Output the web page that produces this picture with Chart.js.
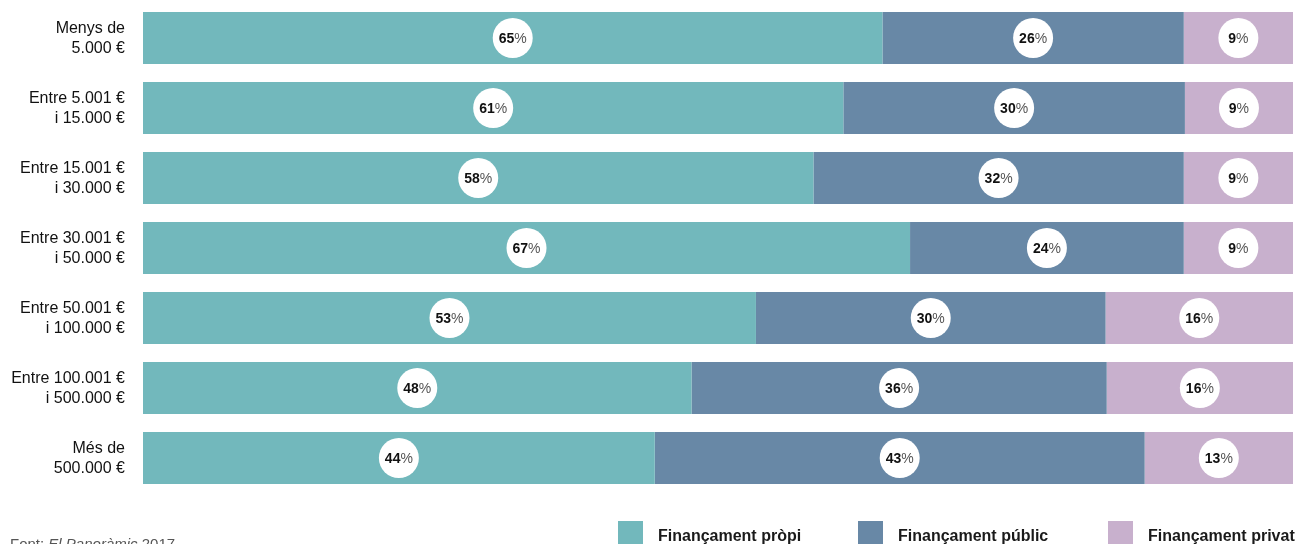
<!DOCTYPE html>
<html>
<head>
<meta charset="utf-8">
<script src="https://cdn.jsdelivr.net/npm/chart.js@4.4.1/dist/chart.umd.min.js"></script>
<style>
html, body { margin: 0; padding: 0; background: #fff; overflow: hidden; }
#wrap { position: relative; width: 1297px; height: 544px; }
</style>
</head>
<body>
<div id="wrap"><canvas id="chart" width="1297" height="544"></canvas></div>
<script>
// chart data
const categories = [
    ['Menys de', '5.000 €'],
    ['Entre 5.001 €', 'i 15.000 €'],
    ['Entre 15.001 €', 'i 30.000 €'],
    ['Entre 30.001 €', 'i 50.000 €'],
    ['Entre 50.001 €', 'i 100.000 €'],
    ['Entre 100.001 €', 'i 500.000 €'],
    ['Més de', '500.000 €']
];
const seriesNames = ['Finançament pròpi', 'Finançament públic', 'Finançament privat'];
const seriesColors = ['#72b8bc', '#6888a6', '#c8b0cd'];

// bar lengths as drawn
const propi = [64.3, 60.9, 58.3, 66.7, 53.3, 47.7, 44.5];
const public_ = [26.2, 29.7, 32.2, 23.8, 30.4, 36.1, 42.6];
const privat = [9.5, 9.4, 9.5, 9.5, 16.3, 16.2, 12.9];

// printed labels
const propiLabels = [65, 61, 58, 67, 53, 48, 44];
const publicLabels = [26, 30, 32, 24, 30, 36, 43];
const privatLabels = [9, 9, 9, 9, 16, 16, 13];

const sourceParts = [['Font: ', 'normal'], ['El Panoràmic', 'italic'], [' 2017', 'normal']];

const FONT = '"Liberation Sans", Arial, Helvetica, sans-serif';

const circleLabels = {
    id: 'circleLabels',
    afterDatasetsDraw(chart) {
        const ctx = chart.ctx;
        chart.data.datasets.forEach((ds, i) => {
            const meta = chart.getDatasetMeta(i);
            meta.data.forEach((bar, j) => {
                const cx = (bar.x + bar.base) / 2;
                const cy = bar.y;
                ctx.save();
                ctx.fillStyle = '#ffffff';
                ctx.beginPath();
                ctx.arc(cx, cy, 20, 0, Math.PI * 2);
                ctx.fill();
                const num = String(ds.labelsShown[j]);
                ctx.font = 'bold 14px ' + FONT;
                const w1 = ctx.measureText(num).width;
                ctx.font = '14px ' + FONT;
                const w2 = ctx.measureText('%').width;
                let x = cx - (w1 + w2) / 2;
                ctx.textBaseline = 'middle';
                ctx.textAlign = 'left';
                ctx.font = 'bold 14px ' + FONT;
                ctx.fillStyle = '#111';
                ctx.fillText(num, x, cy + 1);
                ctx.font = '14px ' + FONT;
                ctx.fillStyle = '#555';
                ctx.fillText('%', x + w1, cy + 1);
                ctx.restore();
            });
        });
    }
};

// category labels, two lines each, right aligned next to the bars
const categoryLabels = {
    id: 'categoryLabels',
    afterDraw(chart) {
        const ctx = chart.ctx;
        const yScale = chart.scales.y;
        ctx.save();
        ctx.font = '16px ' + FONT;
        ctx.fillStyle = '#111';
        ctx.textAlign = 'right';
        ctx.textBaseline = 'middle';
        categories.forEach((lines, i) => {
            const y = yScale.getPixelForValue(i);
            ctx.fillText(lines[0], 125, y - 9);
            ctx.fillText(lines[1], 125, y + 11);
        });
        ctx.restore();
    }
};

const footer = {
    id: 'footer',
    afterDraw(chart) {
        const ctx = chart.ctx;
        ctx.save();
        // legend
        const legendX = [618, 858, 1108];
        seriesNames.forEach((name, i) => {
            ctx.fillStyle = seriesColors[i];
            ctx.fillRect(legendX[i], 521, 25, 30);
            ctx.fillStyle = '#1a1a1a';
            ctx.font = 'bold 16px ' + FONT;
            ctx.textBaseline = 'alphabetic';
            ctx.fillText(name, legendX[i] + 40, 541);
        });
        // source
        let x = 10;
        sourceParts.forEach(([t, style]) => {
            ctx.font = (style === 'italic' ? 'italic ' : '') + '15px ' + FONT;
            ctx.fillStyle = '#555';
            ctx.fillText(t, x, 549);
            x += ctx.measureText(t).width;
        });
        ctx.restore();
    }
};

new Chart(document.getElementById('chart'), {
    type: 'bar',
    data: {
        labels: categories.map(c => c.join(' ')),
        datasets: [
            { label: seriesNames[0], data: propi, labelsShown: propiLabels, backgroundColor: seriesColors[0] },
            { label: seriesNames[1], data: public_, labelsShown: publicLabels, backgroundColor: seriesColors[1] },
            { label: seriesNames[2], data: privat, labelsShown: privatLabels, backgroundColor: seriesColors[2] }
        ]
    },
    options: {
        responsive: false,
        animation: false,
        indexAxis: 'y',
        layout: { padding: { top: 3, bottom: 51, left: 0, right: 4 } },
        datasets: {
            bar: { barPercentage: 52 / 70, categoryPercentage: 1, borderWidth: 0 }
        },
        plugins: {
            legend: { display: false },
            tooltip: { enabled: false }
        },
        scales: {
            x: {
                stacked: true,
                min: 0,
                max: 100,
                display: false
            },
            y: {
                stacked: true,
                grid: { display: false, drawTicks: false },
                border: { display: false },
                ticks: { display: false },
                afterFit(scale) { scale.width = 143; }
            }
        }
    },
    plugins: [circleLabels, categoryLabels, footer]
});
</script>
</body>
</html>
